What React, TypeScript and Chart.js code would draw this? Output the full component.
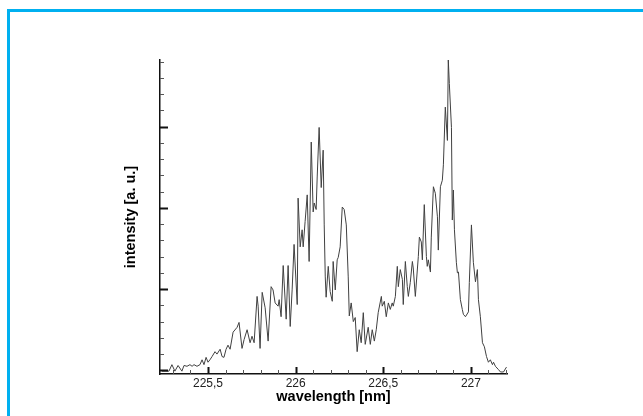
import React, { useEffect, useRef } from "react";
import { Chart, registerables } from "chart.js";

Chart.register(...registerables);

const WAVELENGTH = [
  225.237, 225.26, 225.277, 225.294, 225.311, 225.329, 225.351, 225.363, 225.38, 225.397,
  225.409, 225.42, 225.437, 225.454, 225.466, 225.477, 225.489, 225.5, 225.511, 225.523,
  225.54, 225.551, 225.569, 225.58, 225.591, 225.603, 225.614, 225.626, 225.643, 225.666,
  225.677, 225.694, 225.706, 225.723, 225.74, 225.751, 225.763, 225.78, 225.786, 225.797,
  225.809, 225.826, 225.843, 225.86, 225.871, 225.883, 225.9, 225.906, 225.917, 225.929,
  225.946, 225.957, 225.969, 225.98, 225.991, 226.009, 226.014, 226.026, 226.037, 226.043,
  226.054, 226.066, 226.077, 226.089, 226.1, 226.106, 226.117, 226.123, 226.134, 226.146,
  226.157, 226.163, 226.169, 226.174, 226.186, 226.197, 226.209, 226.214, 226.226, 226.237,
  226.243, 226.254, 226.266, 226.277, 226.289, 226.3, 226.306, 226.317, 226.329, 226.34,
  226.351, 226.363, 226.374, 226.386, 226.397, 226.414, 226.426, 226.437, 226.449, 226.46,
  226.471, 226.489, 226.494, 226.506, 226.517, 226.529, 226.54, 226.551, 226.557, 226.569,
  226.58, 226.586, 226.597, 226.609, 226.614, 226.626, 226.637, 226.643, 226.654, 226.666,
  226.671, 226.683, 226.7, 226.706, 226.717, 226.723, 226.734, 226.746, 226.751, 226.757,
  226.769, 226.774, 226.786, 226.797, 226.809, 226.814, 226.826, 226.837, 226.843, 226.854,
  226.866, 226.871, 226.877, 226.889, 226.894, 226.9, 226.906, 226.917, 226.923, 226.929,
  226.94, 226.951, 226.957, 226.969, 226.986, 226.991, 227.003, 227.014, 227.026, 227.037,
  227.043, 227.054, 227.066, 227.077, 227.089, 227.1, 227.111, 227.123, 227.129, 227.14,
  227.157, 227.169, 227.186, 227.203,
];

const INTENSITY = [
  -0.01, -0.01, -0.01, 0.07, -0.01, 0.06, -0.01, 0.06, 0.05, 0.07,
  0.05, 0.07, 0.05, 0.07, 0.13, 0.07, 0.16, 0.1, 0.13, 0.17,
  0.23, 0.2, 0.26, 0.17, 0.16, 0.26, 0.31, 0.26, 0.47, 0.53,
  0.59, 0.27, 0.38, 0.5, 0.34, 0.42, 0.34, 0.91, 0.79, 0.27,
  0.96, 0.77, 0.36, 1.03, 0.99, 0.83, 0.79, 0.87, 0.66, 1.29,
  0.63, 1.29, 0.54, 0.99, 1.55, 0.81, 2.12, 1.52, 1.73, 1.52,
  1.83, 2.16, 1.34, 2.81, 1.95, 2.06, 1.98, 2.38, 2.99, 2.25,
  2.71, 1.79, 1.15, 0.9, 1.28, 0.97, 0.85, 1.34, 0.99, 1.36,
  1.39, 1.52, 2.01, 1.98, 1.79, 1.15, 0.67, 0.83, 0.6, 0.65,
  0.23, 0.5, 0.34, 0.71, 0.32, 0.53, 0.32, 0.5, 0.36, 0.5,
  0.71, 0.91, 0.79, 0.85, 0.66, 0.83, 0.75, 0.83, 0.79, 0.91,
  1.28, 1.03, 1.24, 1.12, 0.81, 1.34, 1.03, 0.91, 1.08, 1.34,
  1.26, 0.91, 1.4, 1.64, 1.58, 1.36, 2.04, 1.4, 1.28, 1.36,
  1.21, 1.64, 2.26, 2.18, 1.89, 1.48, 2.26, 2.34, 2.53, 3.24,
  2.83, 3.82, 3.53, 2.99, 1.85, 2.22, 1.73, 1.33, 1.2, 1.21,
  0.87, 0.75, 0.69, 0.66, 0.72, 1.08, 1.79, 1.33, 1.09, 1.24,
  0.87, 0.66, 0.34, 0.29, 0.17, 0.1, 0.13, 0.07, 0.1, 0.05,
  0.01, -0.02, -0.02, 0.04,
];

const X_MAJOR = [225.5, 226, 226.5, 227];
const X_LABELS = ["225,5", "226", "226,5", "227"];
const X_MINOR = [
  225.3, 225.4, 225.6, 225.7, 225.8, 225.9, 226.1, 226.2, 226.3, 226.4,
  226.6, 226.7, 226.8, 226.9, 227.1, 227.2,
];
const Y_MAJOR = [0, 1, 2, 3];
const Y_MINOR = [
  0.2, 0.4, 0.6, 0.8, 1.2, 1.4, 1.6, 1.8, 2.2, 2.4, 2.6, 2.8, 3.2, 3.4, 3.6, 3.8,
];

const X_MIN = 225.226;
const X_MAX = 227.206;
const Y_MIN = -0.045;
const Y_MAX = 3.82;

const innerTicks = {
  id: "innerTicks",
  afterDraw(chart: any) {
    const { ctx, chartArea, scales } = chart;
    const xs = scales.x;
    const ys = scales.y;
    ctx.save();
    const drawX = (vals: number[], len: number, w: number, color: string) => {
      ctx.strokeStyle = color;
      ctx.lineWidth = w;
      ctx.beginPath();
      vals.forEach((v) => {
        const px = Math.round(xs.getPixelForValue(v)) + 0.5;
        ctx.moveTo(px, chartArea.bottom);
        ctx.lineTo(px, chartArea.bottom - len);
      });
      ctx.stroke();
    };
    const drawY = (vals: number[], len: number, w: number, color: string) => {
      ctx.strokeStyle = color;
      ctx.lineWidth = w;
      ctx.beginPath();
      vals.forEach((v) => {
        const py = Math.round(ys.getPixelForValue(v)) + 0.5;
        ctx.moveTo(chartArea.left, py);
        ctx.lineTo(chartArea.left + len, py);
      });
      ctx.stroke();
    };
    drawX(X_MINOR, 4, 1, "#555");
    drawX(X_MAJOR, 7, 2, "#111");
    drawY(Y_MINOR, 4, 1, "#555");
    drawY(Y_MAJOR, 8, 2, "#111");
    ctx.restore();
  },
};

const FONT = "'Liberation Sans', Arial, sans-serif";

export default function App() {
  const ref = useRef<HTMLCanvasElement | null>(null);

  useEffect(() => {
    if (!ref.current) return;
    const data = WAVELENGTH.map((x, i) => ({ x, y: INTENSITY[i] }));
    const chart = new Chart(ref.current, {
      type: "line",
      data: {
        datasets: [
          {
            data,
            borderColor: "#404040",
            borderWidth: 1,
            pointRadius: 0,
            tension: 0,
            fill: false,
          },
        ],
      },
      options: {
        responsive: false,
        animation: false,
        devicePixelRatio: 1,
        layout: { padding: { left: 118, top: 60, right: 136, bottom: 6 } },
        plugins: { legend: { display: false }, tooltip: { enabled: false } },
        scales: {
          x: {
            type: "linear",
            min: X_MIN,
            max: X_MAX,
            afterBuildTicks: (scale: any) => {
              scale.ticks = X_MAJOR.map((v) => ({ value: v }));
            },
            afterFit: (scale: any) => {
              scale.height = 36;
            },
            grid: { display: false, drawTicks: false },
            border: { display: true, color: "#111", width: 1.5 },
            ticks: {
              autoSkip: false,
              maxRotation: 0,
              padding: 2,
              color: "#222",
              font: { family: FONT, size: 12 },
              callback: (value: any) => {
                const i = X_MAJOR.findIndex((m) => Math.abs(m - Number(value)) < 1e-6);
                return i >= 0 ? X_LABELS[i] : "";
              },
            },
            title: {
              display: true,
              text: "wavelength [nm]",
              color: "#000",
              font: { family: FONT, size: 14.5, weight: "bold" },
              padding: { top: 0, bottom: 4 },
            },
          },
          y: {
            type: "linear",
            min: Y_MIN,
            max: Y_MAX,
            afterFit: (scale: any) => {
              scale.width = 42;
            },
            grid: { display: false, drawTicks: false },
            border: { display: true, color: "#111", width: 1.5 },
            ticks: { display: false },
            title: {
              display: true,
              text: "intensity [a. u.]",
              color: "#000",
              font: { family: FONT, size: 14.5, weight: "bold" },
              padding: { top: 4, bottom: 0 },
            },
          },
        },
      },
      plugins: [innerTicks],
    } as any);
    return () => chart.destroy();
  }, []);

  return (
    <div
      style={{
        position: "fixed",
        left: 0,
        top: 0,
        width: 643,
        height: 416,
        overflow: "hidden",
        background: "#fff",
      }}
    >
      <div
        style={{
          position: "absolute",
          left: 7,
          top: 9,
          width: 700,
          height: 500,
          borderTop: "3px solid #00b0f0",
          borderLeft: "3px solid #00b0f0",
        }}
      />
      <canvas
        ref={ref}
        width={643}
        height={416}
        style={{ position: "absolute", left: 0, top: 0, width: 643, height: 416 }}
      />
    </div>
  );
}
